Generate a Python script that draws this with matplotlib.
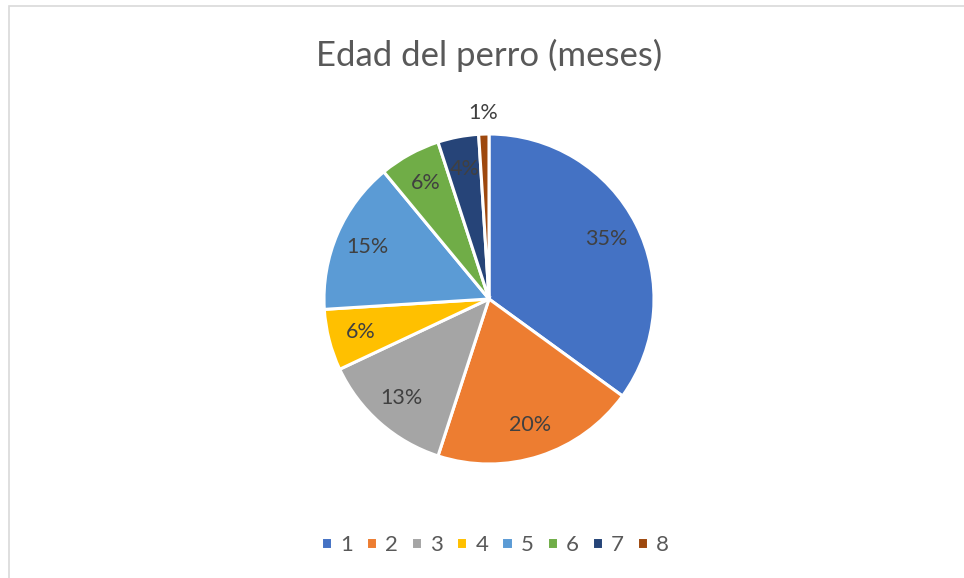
import numpy as np
import matplotlib.pyplot as plt
from matplotlib.patches import Rectangle

# data
meses = ["1", "2", "3", "4", "5", "6", "7", "8"]
porcentajes = [35, 20, 13, 6, 15, 6, 4, 1]
colores = ["#4472C4", "#ED7D31", "#A5A5A5", "#FFC000",
           "#5B9BD5", "#70AD47", "#264478", "#9E480E"]

plt.rcParams["font.family"] = ["Lato", "DejaVu Sans"]

W, H = 964, 578
fig = plt.figure(figsize=(W / 100, H / 100), dpi=100)

# chart frame (right/bottom edges run off the picture)
fig.patches.append(Rectangle((9 / W, -0.05), 1.1, 1 - 6 / H + 0.05,
                             transform=fig.transFigure, fill=False,
                             edgecolor="#D9D9D9", linewidth=1.2))

# pie axes: centre ~ (489, 299), radius ~165 px
cx, cy, r = 489, 299, 165
ax = fig.add_axes([(cx - r) / W, 1 - (cy + r) / H, 2 * r / W, 2 * r / H])
wedges, _ = ax.pie(porcentajes, colors=colores, startangle=90, counterclock=False,
                   wedgeprops=dict(edgecolor="white", linewidth=2.2))
ax.set_xlim(-1, 1)
ax.set_ylim(-1, 1)
ax.set_aspect("equal")

# percentage labels
for i, w in enumerate(wedges):
    ang = np.deg2rad((w.theta1 + w.theta2) / 2)
    d = 0.8 if porcentajes[i] > 1 else 1.13
    ax.text(d * np.cos(ang), d * np.sin(ang), f"{porcentajes[i]}%",
            ha="center", va="center", fontsize=15.5, color="#404040", clip_on=False)

fig.text(489 / W, 1 - 55 / H, "Edad del perro (meses)", ha="center", va="center",
         fontsize=25, color="#595959")

leg = fig.legend(wedges, meses, loc="center", bbox_to_anchor=(495 / W, 1 - 545 / H),
                 ncol=8, frameon=False, fontsize=16, handlelength=0.5, handleheight=0.5,
                 handletextpad=0.35, columnspacing=0.6, labelcolor="#595959")

fig.savefig("out.png", dpi=100)
